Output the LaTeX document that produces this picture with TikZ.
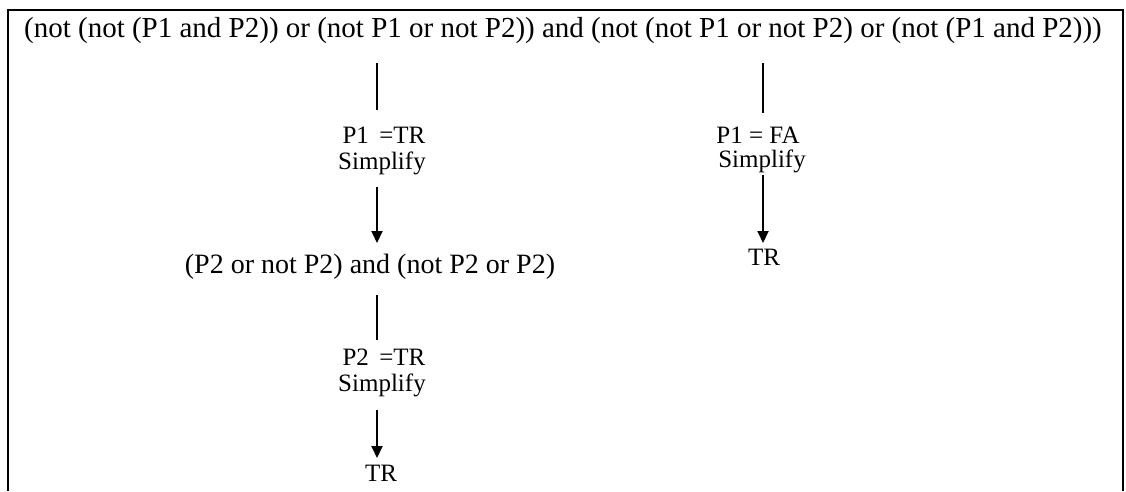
\documentclass[tikz,border=0pt]{standalone}
\usepackage{fontspec}
\setmainfont{Liberation Serif}
\usetikzlibrary{arrows.meta}
\tikzset{
  expr/.style={inner sep=0pt, font=\fontsize{29}{33}\selectfont},
  midexpr/.style={inner sep=0pt, font=\fontsize{28}{32}\selectfont},
  lbl/.style={inner sep=0pt, font=\fontsize{25}{29}\selectfont},
  conn/.style={line width=2pt},
  arr/.style={line width=2pt, -{Triangle[length=12pt,width=11pt]}},
}
\begin{document}
\begin{tikzpicture}[x=1pt,y=-1pt]
\useasboundingbox (0,0) rectangle (1126,491);
\draw[line width=2pt] (8,491) -- (8,10) -- (1123,10) -- (1123,491);
\node[expr] (top) at (563,31) {(not (not (P1 and P2)) or (not P1 or not P2)) and (not (not P1 or not P2) or (not (P1 and P2)))};
% left branch
\node[lbl] (l1) at (384,135) {P1 \,=TR};
\node[lbl] (s1) at (382,163) {Simplify};
\node[midexpr] (mid) at (370,267) {(P2 or not P2) and (not P2 or P2)};
\node[lbl] (l2) at (384,357) {P2 \,=TR};
\node[lbl] (s2) at (382,385) {Simplify};
\node[lbl] (t1) at (381,473) {TR};
% right branch
\node[lbl] (r1) at (758,135) {P1 = FA};
\node[lbl] (rs) at (762,161) {Simplify};
\node[lbl] (t2) at (764,257) {TR};
\coordinate (a1) at (377,63);
\coordinate (a2) at (377,110);
\coordinate (b1) at (377,187);
\coordinate (b2) at (377,243);
\coordinate (c1) at (377,295);
\coordinate (c2) at (377,340);
\coordinate (d1) at (377,410);
\coordinate (d2) at (377,458);
\coordinate (e1) at (763,63);
\coordinate (e2) at (763,113);
\coordinate (f1) at (763,175);
\coordinate (f2) at (763,243);
\draw[conn] (a1) -- (a2);
\draw[arr] (b1) -- (b2);
\draw[conn] (c1) -- (c2);
\draw[arr] (d1) -- (d2);
\draw[conn] (e1) -- (e2);
\draw[arr] (f1) -- (f2);
\end{tikzpicture}
\end{document}
